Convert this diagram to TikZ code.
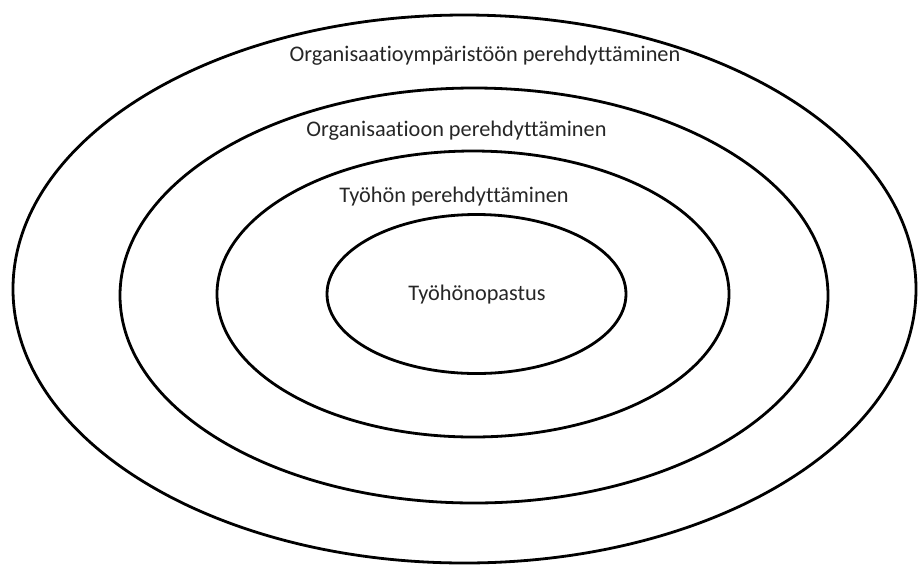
\documentclass[tikz,border=0pt]{standalone}
\usepackage{fontspec}
\setmainfont{Carlito}[Ligatures={NoCommon}]
\usepackage{tikz}
\usetikzlibrary{shapes.geometric}

\begin{document}
\begin{tikzpicture}[
    x=1pt, y=-1pt,
    ring/.style={ellipse, draw=black, line width=2.8pt, inner sep=0pt},
    ringtext/.style={anchor=base, inner sep=0pt, text=black!85,
        font=\fontsize{22.3}{26}\selectfont}
]
\useasboundingbox (0,0) rectangle (918,566);

% Sisakkaiset renkaat
\node[ring, minimum width=903pt, minimum height=548pt] (ymparisto) at (464.5,289) {};
\node[ring, minimum width=708pt, minimum height=415pt] (organisaatio) at (474,295.5) {};
\node[ring, minimum width=512pt, minimum height=286pt] (tyo) at (473,294) {};
\node[ring, minimum width=299pt, minimum height=159pt] (opastus) at (476.5,294) {};

% Tekstit
\node[ringtext] (ymparistoT) at (485,61.5) {Organisaatioympäristöön perehdyttäminen};
\node[ringtext] (organisaatioT) at (456.5,136.5) {Organisaatioon perehdyttäminen};
\node[ringtext] (tyoT) at (454,202) {Työhön perehdyttäminen};
\node[ringtext] (opastusT) at (477,300) {Työhönopastus};

\end{tikzpicture}
\end{document}
